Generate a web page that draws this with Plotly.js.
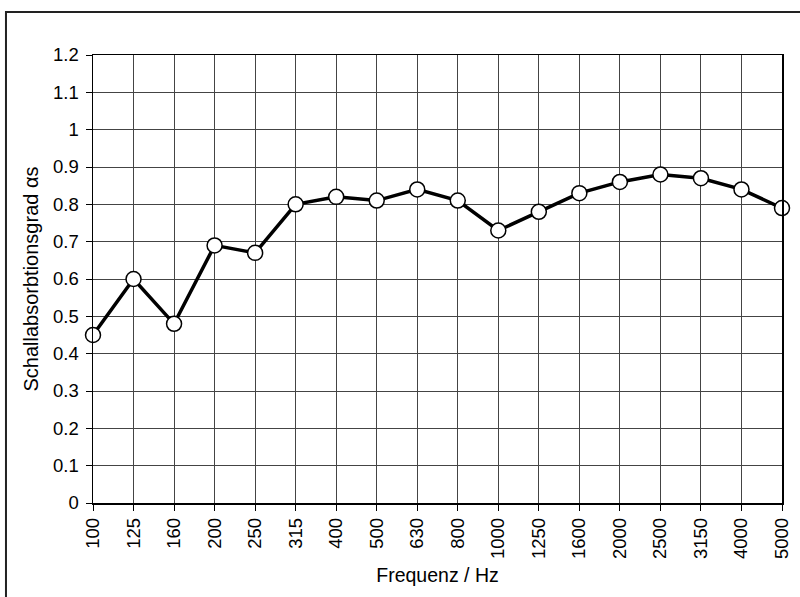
<!DOCTYPE html>
<html>
<head>
<meta charset="utf-8">
<script src="https://cdn.plot.ly/plotly-3.0.1.min.js"></script>
<style>
  html, body { margin: 0; padding: 0; background: #fff; }
  #chart { width: 800px; height: 597px; }
</style>
</head>
<body>
<div id="chart"></div>
<script>
const frequencies = ["100","125","160","200","250","315","400","500","630","800","1000","1250","1600","2000","2500","3150","4000","5000"];
const absorption = [0.45,0.60,0.48,0.69,0.67,0.80,0.82,0.81,0.84,0.81,0.73,0.78,0.83,0.86,0.88,0.87,0.84,0.79];
const yTickValues = [0,0.1,0.2,0.3,0.4,0.5,0.6,0.7,0.8,0.9,1,1.1,1.2];
const yTickLabels = ["0","0.1","0.2","0.3","0.4","0.5","0.6","0.7","0.8","0.9","1","1.1","1.2"];

const font = "Liberation Sans, Arial, sans-serif";

const trace = {
  x: frequencies,
  y: absorption,
  type: "scatter",
  mode: "lines+markers",
  line: { color: "#000", width: 3.5 },
  marker: { symbol: "circle", size: 15, color: "#fff", line: { color: "#000", width: 1.5 } },
  cliponaxis: false,
  hoverinfo: "x+y"
};

const layout = {
  width: 800,
  height: 597,
  margin: { l: 93, r: 18, t: 55, b: 94 },
  paper_bgcolor: "#fff",
  plot_bgcolor: "#fff",
  showlegend: false,
  font: { family: font, color: "#000", size: 18.5 },
  xaxis: {
    type: "category",
    range: [0, 17],
    tickangle: -90,
    ticks: "outside",
    ticklen: 6,
    tickcolor: "#000",
    tickfont: { family: font, size: 18.5, color: "#000" },
    showgrid: true,
    gridcolor: "#444",
    gridwidth: 1,
    showline: true,
    linecolor: "#000",
    linewidth: 1.5,
    mirror: true,
    zeroline: false,
    automargin: false,
    title: { text: "Frequenz / Hz", font: { family: font, size: 19.5, color: "#000" }, standoff: 10 }
  },
  yaxis: {
    range: [0, 1.2],
    tickvals: yTickValues,
    ticktext: yTickLabels,
    ticks: "outside",
    ticklen: 6,
    tickcolor: "#000",
    ticklabelstandoff: 3,
    tickfont: { family: font, size: 18.5, color: "#000" },
    showgrid: true,
    gridcolor: "#444",
    gridwidth: 1,
    showline: true,
    linecolor: "#000",
    linewidth: 1.5,
    mirror: true,
    zeroline: false,
    automargin: false,
    title: { text: "Schallabsorbtionsgrad αs", font: { family: font, size: 20, color: "#000" }, standoff: 9 }
  },
  shapes: [{
    type: "rect",
    xref: "paper", yref: "paper",
    x0: -0.1263, x1: 1.05,
    y0: -0.25, y1: 1.0960,
    line: { color: "#222", width: 2 },
    fillcolor: "rgba(0,0,0,0)",
    layer: "below"
  }]
};

Plotly.newPlot("chart", [trace], layout, { staticPlot: true, displayModeBar: false });
</script>
</body>
</html>
